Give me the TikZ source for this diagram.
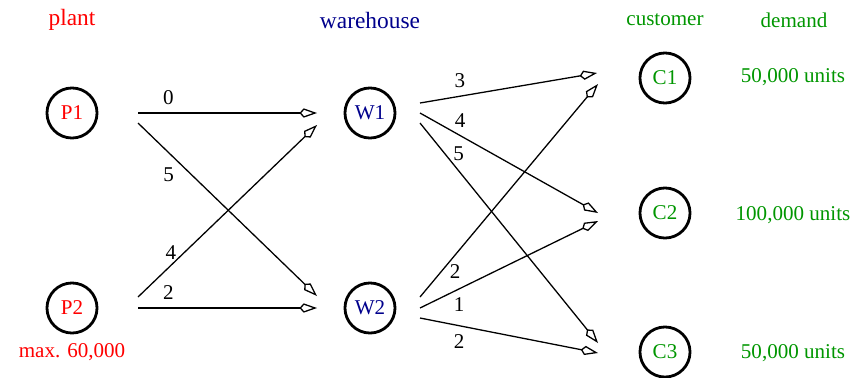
\documentclass[tikz,border=0pt]{standalone}
\usepackage{fontspec}
\setmainfont{Liberation Serif}
\usetikzlibrary{arrows.meta, calc}
\definecolor{plantred}{RGB}{255,0,0}
\definecolor{whblue}{RGB}{0,0,140}
\definecolor{custgreen}{RGB}{0,150,0}
\tikzset{
    site/.style={circle, draw=black, line width=1.2pt, minimum size=21.4pt, inner sep=0pt, text=#1, font=\small},
    flow/.style={-{Kite[open, length=7.5pt, width=4pt, inset=1.8pt]}, line width=0.55pt},
    cost/.style={font=\small},
    heading/.style={text=#1},
    info/.style={text=#1, font=\small}
}

\begin{document}
\begin{tikzpicture}[x=0.4275pt, y=-0.4275pt]
\useasboundingbox (0,0) rectangle (865,377);

% column headings
\node[heading=plantred] (hplant) at (72,20) {plant};
\node[heading=whblue] (hware) at (370,20) {warehouse};
\node[info=custgreen] (hcust) at (665,20) {customer};
\node[info=custgreen] (hdem) at (794,20) {demand};

% plants, warehouses, customers
\node[site=plantred] (P1) at (72,113) {P1};
\node[site=plantred] (P2) at (72,308) {P2};
\node[info=plantred] (cap) at (72,352) {max. 60,000};
\node[site=whblue] (W1) at (370,113) {W1};
\node[site=whblue] (W2) at (370,308) {W2};
\node[site=custgreen] (C1) at (665,78) {C1};
\node[site=custgreen] (C2) at (665,213) {C2};
\node[site=custgreen] (C3) at (665,352) {C3};

% demands
\node[info=custgreen] (d1) at (793,77) {50,000 units};
\node[info=custgreen] (d2) at (793,215) {100,000 units};
\node[info=custgreen] (d3) at (793,353) {50,000 units};

% plant -> warehouse
\draw[flow] ($(P1)+(66,0)$) -- node[cost, pos=.17, above] {0} ($(W1)+(-53,0)$);
\draw[flow] ($(P1)+(66,10)$) -- node[cost, pos=.3, left=4pt] {5} ($(W2)+(-53,-12)$);
\draw[flow] ($(P2)+(66,-11)$) -- node[cost, pos=.26, left] {4} ($(W1)+(-53,12)$);
\draw[flow] ($(P2)+(66,0)$) -- node[cost, pos=.17, above] {2} ($(W2)+(-53,0)$);

% warehouse -> customer
\draw[flow] ($(W1)+(50,-10)$) -- node[cost, pos=.226, above] {3} ($(C1)+(-68,-5)$);
\draw[flow] ($(W1)+(50,0)$) -- node[cost, pos=.225, above] {4} ($(C2)+(-67,0)$);
\draw[flow] ($(W1)+(50,10)$) -- node[cost, pos=.14, right] {5} ($(C3)+(-67,-9)$);
\draw[flow] ($(W2)+(50,-11)$) -- node[cost, pos=.12, right] {2} ($(C1)+(-67,6)$);
\draw[flow] ($(W2)+(50,0)$) -- node[cost, pos=.22, below] {1} ($(C2)+(-67,8)$);
\draw[flow] ($(W2)+(50,10)$) -- node[cost, pos=.22, below] {2} ($(C3)+(-67,1)$);

\end{tikzpicture}
\end{document}
